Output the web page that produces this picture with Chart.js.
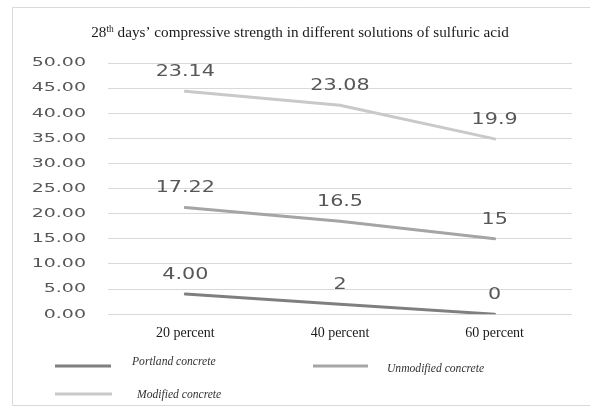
<!DOCTYPE html>
<html><head><meta charset="utf-8">
<script src="https://cdn.jsdelivr.net/npm/chart.js@4.4.0/dist/chart.umd.min.js"></script>
<style>html,body{margin:0;padding:0;background:#fff;overflow:hidden}#wrap{width:590px;height:418px;position:relative}</style>
</head><body><div id="wrap"><canvas id="c" width="590" height="418"></canvas></div>
<script>
const categories = ['20 percent', '40 percent', '60 percent'];
const seriesNames = ['Portland concrete', 'Unmodified concrete', 'Modified concrete'];
const portland = [4, 2, 0];
const unmodified = [17.22, 16.5, 15];
const modified = [23.14, 23.08, 19.9];
const portlandLabels = ['4.00', '2', '0'];
const unmodifiedLabels = ['17.22', '16.5', '15'];
const modifiedLabels = ['23.14', '23.08', '19.9'];
const yTickLabels = ['0.00', '5.00', '10.00', '15.00', '20.00', '25.00', '30.00', '35.00', '40.00', '45.00', '50.00'];
const titleParts = ['28', 'th', ' days\u2019 compressive strength in different solutions of sulfuric acid'];

const seriesColors = ['#7f7f7f', '#a5a5a5', '#c9c9c9'];
const allLabels = [portlandLabels, unmodifiedLabels, modifiedLabels];
const SX_TICK = 1.46;
const SX_LABEL = 1.38;

const extras = {
  id: 'extras',
  beforeDraw(chart) {
    const ctx = chart.ctx;
    ctx.save();
    ctx.strokeStyle = '#d9d9d9';
    ctx.lineWidth = 1;
    ctx.beginPath();
    ctx.moveTo(600, 7.5); ctx.lineTo(12.5, 7.5); ctx.lineTo(12.5, 405.5); ctx.lineTo(600, 405.5);
    ctx.stroke();
    ctx.restore();
  },
  afterDraw(chart) {
    const ctx = chart.ctx;
    const ys = chart.scales.y;
    // title
    ctx.save();
    ctx.fillStyle = '#1a1a1a';
    ctx.textBaseline = 'middle';
    ctx.font = '15.2px "Liberation Serif"';
    const w0 = ctx.measureText(titleParts[0]).width;
    const w2 = ctx.measureText(titleParts[2]).width;
    ctx.font = '9.5px "Liberation Serif"';
    const w1 = ctx.measureText(titleParts[1]).width;
    let x = 300 - (w0 + w1 + w2) / 2;
    ctx.font = '15.2px "Liberation Serif"';
    ctx.fillText(titleParts[0], x, 33);
    ctx.font = '9.5px "Liberation Serif"';
    ctx.fillText(titleParts[1], x + w0, 29);
    ctx.font = '15.2px "Liberation Serif"';
    ctx.fillText(titleParts[2], x + w0 + w1, 33);
    ctx.restore();

    // y tick labels
    ctx.save();
    ctx.fillStyle = '#575757';
    ctx.font = '13px "DejaVu Sans"';
    ctx.textAlign = 'right';
    ctx.textBaseline = 'middle';
    ys.ticks.forEach((t, i) => {
      const y = ys.getPixelForValue(t.value);
      ctx.save();
      ctx.translate(86, y);
      ctx.scale(SX_TICK, 1);
      ctx.fillText(yTickLabels[i], 0, 0);
      ctx.restore();
    });
    ctx.restore();

    // data labels
    ctx.save();
    ctx.fillStyle = '#575757';
    ctx.font = '15px "DejaVu Sans"';
    ctx.textAlign = 'center';
    ctx.textBaseline = 'middle';
    chart.data.datasets.forEach((ds, di) => {
      const meta = chart.getDatasetMeta(di);
      meta.data.forEach((pt, i) => {
        ctx.save();
        ctx.translate(pt.x, pt.y - 19);
        ctx.scale(SX_LABEL, 1);
        ctx.fillText(allLabels[di][i], 0, 0);
        ctx.restore();
      });
    });
    ctx.restore();

    // legend
    const items = [
      {x1: 55, x2: 111, ly: 366, tx: 132, ty: 362},
      {x1: 313, x2: 368, ly: 366, tx: 387, ty: 369},
      {x1: 55, x2: 112, ly: 394, tx: 137, ty: 395}
    ];
    ctx.save();
    ctx.font = 'italic 11.6px "Liberation Serif"';
    ctx.textBaseline = 'middle';
    ctx.textAlign = 'left';
    chart.data.datasets.forEach((ds, di) => {
      const it = items[di];
      ctx.strokeStyle = ds.borderColor;
      ctx.lineWidth = 3;
      ctx.beginPath();
      ctx.moveTo(it.x1, it.ly); ctx.lineTo(it.x2, it.ly);
      ctx.stroke();
      ctx.fillStyle = '#333333';
      ctx.fillText(ds.label, it.tx, it.ty);
    });
    ctx.restore();
  }
};

new Chart(document.getElementById('c'), {
  type: 'line',
  data: {
    labels: categories,
    datasets: [
      {label: seriesNames[0], data: portland, borderColor: seriesColors[0]},
      {label: seriesNames[1], data: unmodified, borderColor: seriesColors[1]},
      {label: seriesNames[2], data: modified, borderColor: seriesColors[2]}
    ].map(d => Object.assign(d, {borderWidth: 3, pointRadius: 0, pointHoverRadius: 0, tension: 0, fill: false, borderCapStyle: 'round'}))
  },
  options: {
    responsive: false,
    animation: false,
    devicePixelRatio: 1,
    layout: {padding: {left: 108, right: 18, top: 63, bottom: 65}},
    plugins: {legend: {display: false}, title: {display: false}, tooltip: {enabled: false}},
    scales: {
      x: {
        offset: true,
        grid: {display: false, drawTicks: false},
        border: {display: false},
        ticks: {font: {family: '"Liberation Serif"', size: 14}, color: '#1a1a1a', padding: 11, maxRotation: 0}
      },
      y: {
        stacked: true,
        min: 0, max: 50,
        grid: {color: '#d9d9d9', lineWidth: 1, drawTicks: false},
        border: {display: false},
        ticks: {display: false, stepSize: 5}
      }
    }
  },
  plugins: [extras]
});
</script></body></html>
